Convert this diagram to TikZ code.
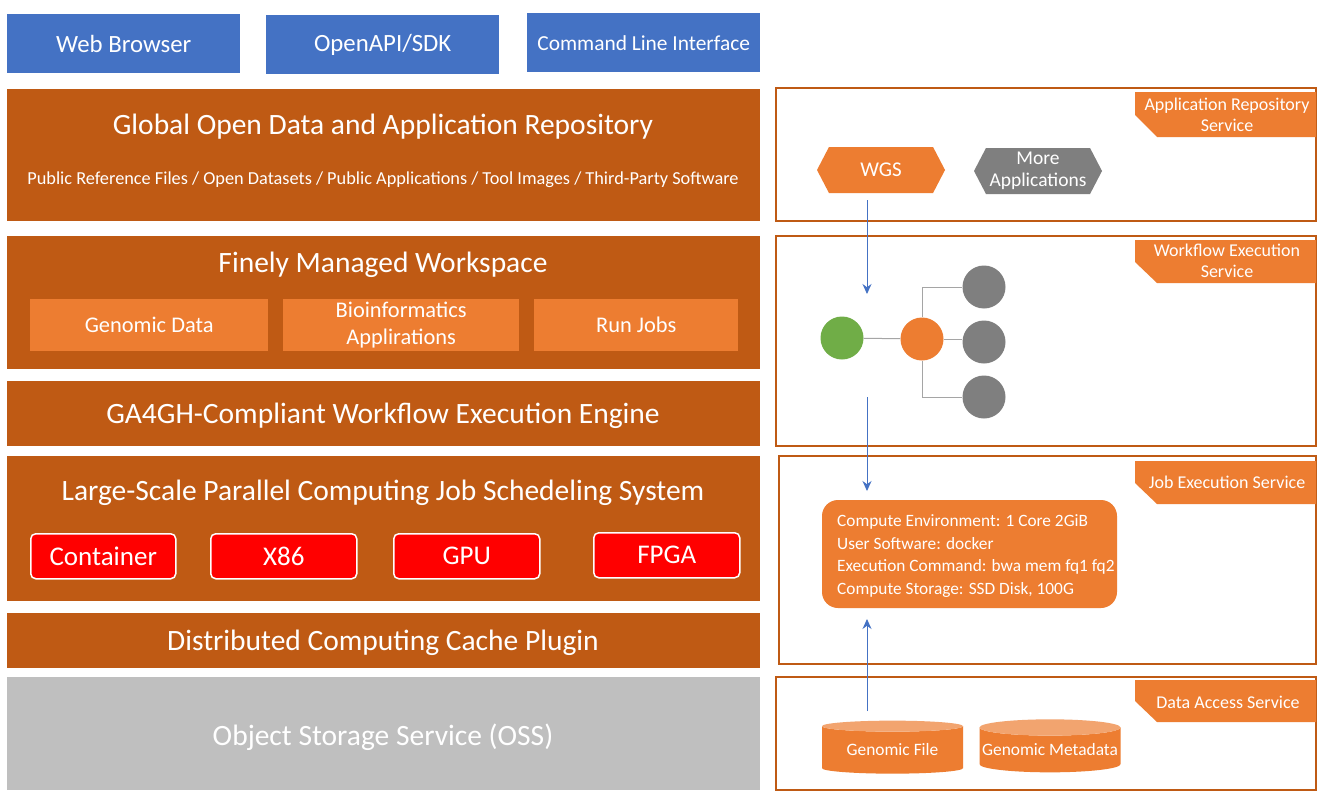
\documentclass[tikz,border=0pt]{standalone}
\usepackage{fontspec}
\setmainfont{Carlito}
\usetikzlibrary{arrows.meta,shapes.geometric,shapes.symbols}

\definecolor{clientblue}{HTML}{4472C4}
\definecolor{layerorange}{HTML}{BF5A14}
\definecolor{lightorange}{HTML}{ED7D31}
\definecolor{boxred}{HTML}{FF0000}
\definecolor{ossgray}{HTML}{BFBFBF}
\definecolor{appgray}{HTML}{7F7F7F}
\definecolor{startgreen}{HTML}{70AD47}
\definecolor{linegray}{HTML}{A5A5A5}

\tikzset{
  fs/.code={\pgfmathsetmacro\fsb{#1*1.2}%
    \edef\fsfont{\noexpand\fontsize{#1}{\fsb}\noexpand\selectfont}%
    \pgfkeysalso{/tikz/font/.expand once=\fsfont}},
  client/.style={fill=clientblue, text=white, anchor=north west, inner sep=0pt},
  layer/.style={fill=layerorange, anchor=north west, inner sep=0pt},
  layertitle/.style={text=white, fs=29.5},
  subbox/.style={fill=lightorange, text=white, anchor=north west, inner sep=0pt, align=center, fs=22.4},
  hwbox/.style={fill=boxred, draw=white, line width=1.5pt, rounded corners=5pt, text=white,
    anchor=north west, inner sep=0pt, fs=27},
  panel/.style={draw=layerorange, line width=1.8pt},
  svctag/.style={fill=lightorange},
  tagtext/.style={text=white, align=center, fs=18},
  app/.style={shape=signal, signal to=west and east, signal pointer angle=125, text=white,
    minimum width=128pt, minimum height=46pt, inner sep=0pt, align=center},
  step node/.style={circle, minimum size=43pt, inner sep=0pt},
  tree/.style={draw=linegray, line width=1pt},
  flow/.style={-{Stealth[length=10pt,width=9pt]}, draw=clientblue, line width=0.9pt},
  store/.style={shape=cylinder, shape border rotate=90, aspect=0.12, cylinder uses custom fill,
    cylinder body fill=lightorange, cylinder end fill=lightorange!70!white, text=white,
    minimum width=141pt, minimum height=53pt, inner sep=0pt, fs=17.4}
}

\begin{document}
\begin{tikzpicture}[x=1pt, y=-1pt, >=Stealth]

    \useasboundingbox[fill=white] (0,0) rectangle (1328,800);

    % Clients
    \node[client, minimum width=233pt, minimum height=59pt, fs=24.8] (browser) at (7,14) {Web Browser};
    \node[client, minimum width=233pt, minimum height=59pt, fs=24.8] (sdk) at (266,15) {OpenAPI/SDK};
    \node[client, minimum width=233pt, minimum height=59pt, fs=21.4] (cli) at (527,13) {Command Line Interface};

    % Repository layer
    \node[layer, minimum width=753pt, minimum height=132pt] (repo) at (7,89) {};
    \node[layertitle] (repotitle) at (383,127) {Global Open Data and Application Repository};
    \node[text=white, fs=18.3] (reposub) at (383,180)
        {Public Reference Files / Open Datasets / Public Applications / Tool Images / Third-Party Software};

    % Workspace layer
    \node[layer, minimum width=753pt, minimum height=133pt] (workspace) at (7,236) {};
    \node[layertitle] (wstitle) at (383,265) {Finely Managed Workspace};
    \node[subbox, minimum width=238pt, minimum height=52pt] (gdata) at (30,299) {Genomic Data};
    \node[subbox, minimum width=236pt, minimum height=52pt] (bioapps) at (283,299) {Bioinformatics\\Applirations};
    \node[subbox, minimum width=204pt, minimum height=52pt] (runjobs) at (534,299) {Run Jobs};

    % Workflow engine layer
    \node[layer, minimum width=753pt, minimum height=65pt] (engine) at (7,381) {};
    \node[layertitle] (enginetitle) at (383,416) {GA4GH-Compliant Workflow Execution Engine};

    % Scheduling layer
    \node[layer, minimum width=753pt, minimum height=145pt] (sched) at (7,456) {};
    \node[layertitle] (schedtitle) at (383,493) {Large-Scale Parallel Computing Job Schedeling System};
    \node[hwbox, minimum width=145pt, minimum height=45pt] (container) at (30,533) {Container};
    \node[hwbox, minimum width=146pt, minimum height=45pt] (xeightysix) at (210,533) {X86};
    \node[hwbox, minimum width=146pt, minimum height=45pt] (gpu) at (393,533) {GPU};
    \node[hwbox, minimum width=146pt, minimum height=45pt] (fpga) at (593,532) {FPGA};

    % Cache layer
    \node[layer, minimum width=753pt, minimum height=55pt] (cache) at (7,613) {};
    \node[layertitle] (cachetitle) at (383,643) {Distributed Computing Cache Plugin};

    % Object storage
    \node[fill=ossgray, anchor=north west, inner sep=0pt, minimum width=753pt, minimum height=113pt] (oss) at (7,677) {};
    \node[text=white, fs=29.5] (osstitle) at (383,737) {Object Storage Service (OSS)};

    % Service panels
    \draw[panel] (776,88) rectangle (1316,221);
    \draw[panel] (776,236) rectangle (1316,446);
    \draw[panel] (779,456) rectangle (1316,664);
    \draw[panel] (776,677) rectangle (1316,790);

    % Service tags
    \fill[svctag] (1135,92) -- (1316,92) -- (1316,137) -- (1157,137) -- (1135,115) -- cycle;
    \node[tagtext] (reposvc) at (1227,115) {Application Repository\\Service};
    \fill[svctag] (1135,240) -- (1316,240) -- (1316,283) -- (1157,283) -- (1135,262) -- cycle;
    \node[tagtext] (wfsvc) at (1227,261) {Workflow Execution\\Service};
    \fill[svctag] (1135,461) -- (1316,461) -- (1316,504) -- (1157,504) -- (1135,483) -- cycle;
    \node[tagtext] (jobsvc) at (1227,482) {Job Execution Service};
    \fill[svctag] (1135,680) -- (1316,680) -- (1316,722) -- (1157,722) -- (1135,701) -- cycle;
    \node[tagtext] (datasvc) at (1228,702) {Data Access Service};

    % Applications
    \node[app, fill=lightorange, fs=21] (wgs) at (881,170) {WGS};
    \node[app, fill=appgray, fs=19.5] (moreapps) at (1038,171) {More\\[-2pt]Applications};

    % Workflow steps
    \node[step node, fill=startgreen] (start) at (842,338) {};
    \node[step node, fill=lightorange] (mid) at (922,339) {};
    \node[step node, fill=appgray] (leafa) at (984,287) {};
    \node[step node, fill=appgray] (leafb) at (984,342) {};
    \node[step node, fill=appgray] (leafc) at (984,397) {};
    \draw[tree] (start) -- (mid);
    \draw[tree] (mid.east) -- (leafb.west |- mid.east);
    \draw[tree] (mid.north) |- (leafa.west);
    \draw[tree] (mid.south) |- (leafc.west);

    % Job spec
    \node[fill=lightorange, rounded corners=16pt, minimum width=295pt, minimum height=108pt] (jobspec) at (969.5,554) {};
    \node[text=white, anchor=west, align=left, inner sep=0pt, font=\fontsize{17.3}{22.7}\selectfont] (jobtext) at (837,556)
        {Compute Environment: 1 Core 2GiB\\User Software: docker\\Execution Command: bwa mem fq1 fq2\\Compute Storage: SSD Disk, 100G};

    % Data stores
    \node[store] (gfile) at (892.5,750) {Genomic File};
    \node[store] (gmeta) at (1050,750) {Genomic Metadata};

    % Flow arrows
    \coordinate (wgsout) at (867,200);
    \coordinate (wfin) at (867,294);
    \coordinate (wfout) at (867,397);
    \coordinate (jobin) at (867,491);
    \coordinate (dataout) at (867,711);
    \coordinate (jobup) at (867,619);
    \draw[flow] (wgsout) -- (wfin);
    \draw[flow] (wfout) -- (jobin);
    \draw[flow] (dataout) -- (jobup);

\end{tikzpicture}
\end{document}
